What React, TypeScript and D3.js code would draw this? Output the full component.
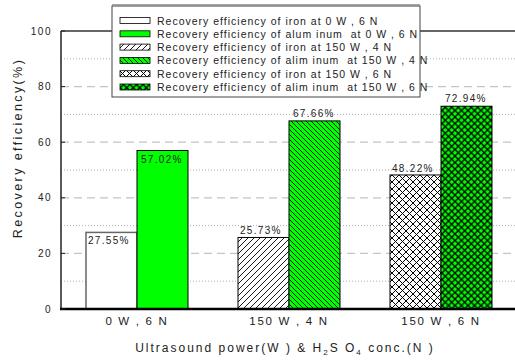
import React, { useLayoutEffect, useRef } from "react";
import * as d3 from "d3";

const categories = ["0 W , 6 N", "150 W , 4 N", "150 W , 6 N"];
const ironValues = [27.55, 25.73, 48.22];
const aluminumValues = [57.02, 67.66, 72.94];
const yTicks = [0, 20, 40, 60, 80, 100];
const minorTicks = [10, 30, 50, 70, 90];
const legendLabels = [
  "Recovery efficiency of iron at 0 W , 6 N",
  "Recovery efficiency of alum inum  at 0 W , 6 N",
  "Recovery efficiency of iron at 150 W , 4 N",
  "Recovery efficiency of alim inum  at 150 W , 4 N",
  "Recovery efficiency of iron at 150 W , 6 N",
  "Recovery efficiency of alim inum  at 150 W , 6 N",
];
const ironFills = ["#ffffff", "url(#fwd)", "url(#xw)"];
const alFills = ["#00ff00", "url(#bwd)", "url(#xg)"];
const labelInside = [true, false, false];

const W = 515, H = 361;
const left = 61, right = 517, top = 31, bottom = 309;
const legendTextWidths = [218, 260, 224, 260, 224, 260];

export default function App() {
  const legendRef = useRef<SVGGElement>(null);
  const x = d3.scaleBand().domain(categories).range([left, right]).padding(0);
  const y = d3.scaleLinear().domain([0, 100]).range([bottom, top]);
  const bw = 51;
  const font = "Liberation Sans, Arial, sans-serif";
  const legendFills = [ironFills[0], alFills[0], ironFills[1], alFills[1], ironFills[2], alFills[2]];

  useLayoutEffect(() => {
    if (!legendRef.current) return;
    d3.select(legendRef.current).selectAll<SVGTextElement, unknown>("text").each(function (_, i) {
      this.setAttribute("word-spacing", "0");
      const natural = this.getComputedTextLength();
      const spaces = ((this.textContent || "").match(/ /g) || []).length;
      const s = (legendTextWidths[i] - natural) / Math.max(1, spaces);
      this.setAttribute("word-spacing", String(Math.max(0, s)));
    });
  }, []);

  return (
    <svg width={W} height={H} style={{ position: "absolute", left: 0, top: 0 }} fontFamily={font}>
      <defs>
        <pattern id="fwd" patternUnits="userSpaceOnUse" width="6" height="6">
          <rect width="6" height="6" fill="#fff" />
          <path d="M-1,1 l2,-2 M0,6 l6,-6 M5,7 l2,-2" stroke="#000" strokeWidth="0.9" />
        </pattern>
        <pattern id="bwd" patternUnits="userSpaceOnUse" width="5" height="5">
          <rect width="5" height="5" fill="#00ff00" />
          <path d="M-1,4 l2,2 M0,0 l5,5 M4,-1 l2,2" stroke="#000" strokeWidth="0.9" />
        </pattern>
        <pattern id="xw" patternUnits="userSpaceOnUse" width="7" height="7">
          <rect width="7" height="7" fill="#fff" />
          <path d="M0,0 l7,7 M0,7 l7,-7" stroke="#000" strokeWidth="1" />
        </pattern>
        <pattern id="xg" patternUnits="userSpaceOnUse" width="6.5" height="6.5">
          <rect width="6.5" height="6.5" fill="#00ff00" />
          <path d="M0,0 l6.5,6.5 M0,6.5 l6.5,-6.5" stroke="#000" strokeWidth="1.3" />
        </pattern>
      </defs>
      <rect width={W} height={H} fill="#fff" />
      {/* grid */}
      {yTicks.filter(t => t > 0 && t < 100).map(t => (
        <line key={"g" + t} x1={left} x2={W} y1={y(t)} y2={y(t)} stroke="#c4c4c4" strokeWidth={1.3} strokeDasharray="8,5" />
      ))}
      {minorTicks.map(t => (
        <line key={"m" + t} x1={left} x2={W} y1={y(t)} y2={y(t)} stroke="#999" strokeWidth={0.8} strokeDasharray="1,2" />
      ))}
      {/* bars */}
      {categories.map((c, i) => {
        const cx = (x(c) as number) + x.bandwidth() / 2;
        return (
          <g key={c}>
            <rect x={cx - bw} y={y(ironValues[i])} width={bw} height={bottom - y(ironValues[i])}
              fill={ironFills[i]} stroke={i === 0 ? "#666" : "#000"} strokeWidth={i === 0 ? 1.5 : 1} />
            <rect x={cx} y={y(aluminumValues[i])} width={bw} height={bottom - y(aluminumValues[i])}
              fill={alFills[i]} stroke="#000" strokeWidth={1} />
            <text x={cx - bw + 2} y={labelInside[i] ? y(ironValues[i]) + 12 : y(ironValues[i]) - 3}
              fontSize={10} letterSpacing={1.3} fill="#222">{ironValues[i].toFixed(2)}%</text>
            <text x={cx + 4} y={labelInside[i] ? y(aluminumValues[i]) + 13 : y(aluminumValues[i]) - 4}
              fontSize={10} letterSpacing={1.3} fill="#222">{aluminumValues[i].toFixed(2)}%</text>
            <text x={cx} y={325} textAnchor="middle" fontSize={11.5} letterSpacing={1.7} fill="#222">{c}</text>
          </g>
        );
      })}
      {/* frame */}
      <line x1={left} x2={W} y1={top} y2={top} stroke="#333" strokeWidth={1.5} />
      <line x1={left} x2={left} y1={top} y2={bottom} stroke="#222" strokeWidth={1.5} />
      <line x1={left - 1} x2={W} y1={bottom} y2={bottom} stroke="#000" strokeWidth={2.5} />
      {yTicks.map(t => (
        <g key={"t" + t}>
          <line x1={left} x2={left + 4} y1={y(t)} y2={y(t)} stroke="#222" strokeWidth={1} />
          <text x={52} y={y(t) + 3.5} textAnchor="end" fontSize={10} letterSpacing={1.5} fill="#222">{t}</text>
        </g>
      ))}
      {/* axis titles */}
      <text transform={`translate(22,148) rotate(-90)`} textAnchor="middle" fontSize={12.5} letterSpacing={2.4} fill="#222">Recovery efficiency(%)</text>
      <text x={285} y={352} textAnchor="middle" fontSize={12} letterSpacing={2} fill="#222">
        Ultrasound power(W ) &amp; H<tspan fontSize={8} dy={3}>2</tspan><tspan dy={-3}>S O</tspan><tspan fontSize={8} dy={3}>4</tspan><tspan dy={-3}> conc.(N )</tspan>
      </text>
      {/* legend */}
      <rect x={112} y={6} width={308} height={91} fill="#fff" stroke="#444" strokeWidth={1} />
      <line x1={112} x2={420} y1={5} y2={5} stroke="#888" strokeWidth={1.5} />
      {legendLabels.map((l, i) => (
        <rect key={"s" + i} x={120} y={17.5 + i * 13.3} width={30} height={6} fill={legendFills[i]} stroke="#000" strokeWidth={0.8} />
      ))}
      <g ref={legendRef} fontFamily="'Liberation Sans Narrow', 'Arial Narrow', 'Liberation Sans', sans-serif">
        {legendLabels.map((l, i) => (
          <text key={l} x={157} y={24.5 + i * 13.3} fontSize={10.5} letterSpacing={1} fill="#222" xmlSpace="preserve">{l}</text>
        ))}
      </g>
    </svg>
  );
}
